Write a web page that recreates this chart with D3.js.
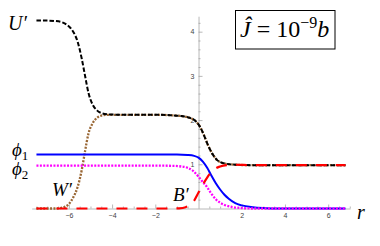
<!DOCTYPE html>
<html><head><meta charset="utf-8">
<script src="https://cdn.jsdelivr.net/npm/d3@7"></script>
<style>body{margin:0;background:#fff}svg{display:block}
.lbl{font-family:"Liberation Serif","Times New Roman","DejaVu Serif",serif;}
.tk{font-family:"Liberation Sans","DejaVu Sans",sans-serif;}
</style>
</head><body><svg id="c" width="380" height="246"></svg>
<script>
// ---- data ----
const xTicks = [-6, -4, -2, 2, 4, 6];
const yTicks = [1, 2, 3, 4];
const xMinor = [-7.5,-7,-6.5,-5.5,-5,-4.5,-3.5,-3,-2.5,-1.5,-1,-0.5,0.5,1,1.5,2.5,3,3.5,4.5,5,5.5,6.5,7];
const yMinor = [0.2,0.4,0.6,0.8,1.2,1.4,1.6,1.8,2.2,2.4,2.6,2.8,3.2,3.4,3.6,3.8,4.2];

const uPrime = [[-7.5,4.25],[-7,4.25],[-6.6,4.24],[-6.3,4.21],[-6.0,4.12],[-5.8,4.0],[-5.6,3.78],[-5.4,3.38],[-5.25,3.0],[-5.1,2.63],[-4.9,2.35],[-4.7,2.22],[-4.5,2.16],[-4.2,2.13],[-3.5,2.12],[-2,2.12],[-1.3,2.11],[-0.8,2.09],[-0.4,2.05],[-0.1,1.96],[0.1,1.82],[0.25,1.66],[0.45,1.42],[0.65,1.23],[0.85,1.10],[1.0,1.05],[1.3,1.01],[1.7,0.99],[2.5,0.98],[6.8,0.98]];
const wPrime = [[-7.5,0],[-6.6,0],[-6.3,0.02],[-6.0,0.1],[-5.8,0.25],[-5.6,0.48],[-5.4,0.88],[-5.25,1.3],[-5.1,1.68],[-4.9,1.93],[-4.7,2.05],[-4.5,2.1],[-4.2,2.12],[-3.5,2.12],[-2,2.12],[-1.3,2.11],[-0.8,2.09],[-0.4,2.05],[-0.1,1.96],[0.1,1.82],[0.25,1.66],[0.45,1.42],[0.65,1.23],[0.85,1.10],[1.0,1.05],[1.3,1.01],[1.7,0.99],[2.5,0.98],[6.8,0.98]];
const phi1 = [[-7.5,1.22],[-2,1.22],[-1,1.22],[-0.5,1.21],[-0.2,1.19],[0,1.15],[0.2,1.06],[0.4,0.92],[0.6,0.74],[0.8,0.57],[1.0,0.43],[1.2,0.31],[1.4,0.22],[1.7,0.12],[2.0,0.07],[2.5,0.03],[3,0.01],[3.5,0],[6.8,0]];
const phi2 = [[-7.5,0.97],[-2,0.97],[-1.2,0.965],[-0.8,0.95],[-0.5,0.92],[-0.25,0.85],[0,0.72],[0.2,0.6],[0.4,0.48],[0.6,0.33],[0.8,0.21],[1.0,0.13],[1.2,0.08],[1.5,0.04],[2,0.01],[2.5,0],[6.8,0]];
const bPrime = [[-7.5,0],[-1.2,0],[-0.9,0.005],[-0.6,0.03],[-0.4,0.08],[-0.2,0.18],[0,0.36],[0.2,0.54],[0.4,0.7],[0.6,0.83],[0.8,0.91],[1.0,0.95],[1.3,0.98],[1.7,0.99],[2.5,0.98],[6.8,0.98]];

// ---- drawing ----
const svg = d3.select("#c");
const x = d3.scaleLinear().domain([-7.72, 7.01]).range([31.7, 350]);
const y = d3.scaleLinear().domain([0, 4.35]).range([208.5, 16.2]);
const x0 = x(0), y0 = y(0);

function styleAxis(g){
  g.attr("font-family",null);
  g.select(".domain").attr("stroke","#b8b8b8").attr("stroke-width",1);
  g.selectAll(".tick line").attr("stroke","#999").attr("stroke-width",0.7);
  g.selectAll(".tick text").attr("class","tk").attr("fill","#444").attr("font-size",7);
}
svg.append("g").attr("transform",`translate(0,${y0})`)
  .call(d3.axisBottom(x).tickValues(xMinor).tickSizeInner(-2).tickSizeOuter(0).tickFormat(""))
  .call(styleAxis);
svg.append("g").attr("transform",`translate(0,${y0})`)
  .call(d3.axisBottom(x).tickValues(xTicks).tickSizeInner(-4).tickSizeOuter(0).tickPadding(5).tickFormat(d3.format("d")))
  .call(styleAxis).call(g=>g.select(".domain").remove());
svg.append("g").attr("transform",`translate(${x0},0)`)
  .call(d3.axisLeft(y).tickValues(yMinor).tickSizeInner(-2).tickSizeOuter(0).tickFormat(""))
  .call(styleAxis);
svg.append("g").attr("transform",`translate(${x0},0)`)
  .call(d3.axisLeft(y).tickValues(yTicks).tickSizeInner(-4).tickSizeOuter(0).tickPadding(4).tickFormat(d3.format("d")))
  .call(styleAxis).call(g=>g.select(".domain").remove());

const line = d3.line().x(d=>x(d[0])).y(d=>y(d[1])).curve(d3.curveMonotoneX);
const series = [
  {data:wPrime, color:"#996633", w:2.3, dash:"2,1.4"},
  {data:uPrime, color:"#000000", w:2, dash:"4.5,2"},
  {data:phi1, color:"#0000ff", w:2, dash:null},
  {data:phi2, color:"#ff00ff", w:2.3, dash:"2,1.4"},
  {data:bPrime, color:"#ff0000", w:2.2, dash:"11,9"}
];
series.forEach(s=>{
  svg.append("path").datum(s.data).attr("d",line).attr("fill","none")
    .attr("stroke",s.color).attr("stroke-width",s.w)
    .attr("stroke-dasharray",s.dash);
});

function label(tx,ty,txt,size){
  return svg.append("text").attr("class","lbl").attr("x",tx).attr("y",ty)
    .attr("font-style","italic").attr("font-size",size).attr("fill","#000").text(txt);
}
label(8,30,"U′",20);
label(357,219,"r",20);
label(52,196,"W′",19);
label(173,201,"B′",19);
const p1 = label(12,156,"ϕ",19); p1.append("tspan").attr("font-style","normal").attr("font-size",13).attr("dy",4).text("1");
const p2 = label(12,175,"ϕ",19); p2.append("tspan").attr("font-style","normal").attr("font-size",13).attr("dy",4).text("2");

svg.append("rect").attr("x",235.5).attr("y",10.5).attr("width",99.5).attr("height",38.5)
  .attr("fill","#fff").attr("stroke","#000").attr("stroke-width",1);
const bt = svg.append("text").attr("class","lbl").attr("x",240).attr("y",37).attr("font-size",24).attr("fill","#000");
bt.append("tspan").attr("font-style","italic").text("Ĵ");
bt.append("tspan").text(" = 10");
bt.append("tspan").attr("font-size",16).attr("dy",-9).text("−9");
bt.append("tspan").attr("font-style","italic").attr("dy",9).text("b");
</script></body></html>
